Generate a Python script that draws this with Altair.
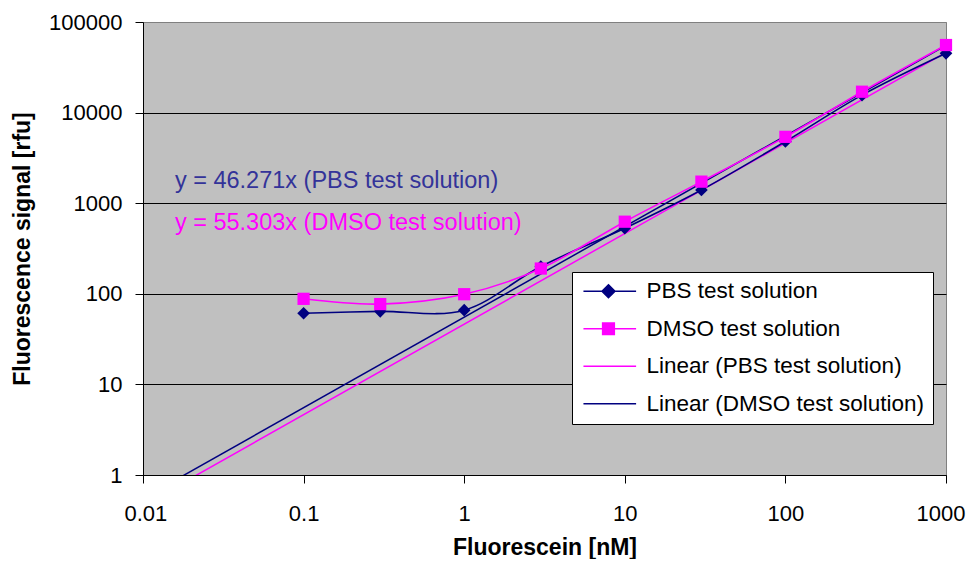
import altair as alt
import pandas as pd

# ---- data ----
X_NM = [0.1, 0.3, 1, 3, 10, 30, 100, 300, 1000]
PBS = [61, 64, 66, 200, 530, 1400, 4800, 15600, 45100]
DMSO = [88, 77, 99, 190, 625, 1730, 5400, 17000, 55700]

FIT_X = [0.01, 1000]
FIT_PBS = [0.46271, 46271]     # y = 46.271x
FIT_DMSO = [0.55303, 55303]    # y = 55.303x

SERIES = ["PBS test solution", "DMSO test solution",
          "Linear (PBS test solution)", "Linear (DMSO test solution)"]
COLORS = ["#000080", "#FF00FF", "#FF00FF", "#000080"]
LEGEND_SHAPES = [
    "M-1.2,0H6.9M2.65,-1L3.65,0L2.65,1L1.65,0Z",
    "M-1.2,0H6.9M1.75,-0.9H3.55V0.9H1.75Z",
    "M-1.2,0H6.9",
    "M-1.2,0H6.9",
]

X_TICKS = [0.01, 0.1, 1, 10, 100, 1000]
Y_TICKS = [1, 10, 100, 1000, 10000, 100000]

ANNOT_TEXT = ["y = 46.271x (PBS test solution)", "y = 55.303x (DMSO test solution)"]
ANNOT_X = [0.0158, 0.0158]
ANNOT_Y = [1470, 506]
ANNOT_COLOR = ["#333399", "#FF00FF"]

FONT = "Liberation Sans"

# ---- tables ----
pts = pd.DataFrame({
    "x": X_NM * 2,
    "y": PBS + DMSO,
    "series": [SERIES[0]] * len(X_NM) + [SERIES[1]] * len(X_NM),
})
fits = pd.DataFrame({
    "x": FIT_X * 2,
    "y": FIT_PBS + FIT_DMSO,
    "series": [SERIES[2]] * 2 + [SERIES[3]] * 2,
})
ann = pd.DataFrame({"x": ANNOT_X, "y": ANNOT_Y, "t": ANNOT_TEXT, "c": ANNOT_COLOR})

x_enc = alt.X("x:Q",
              scale=alt.Scale(type="log", domain=[0.01, 1000], nice=False),
              axis=alt.Axis(values=X_TICKS, format="~g", title="Fluorescein [nM]",
                            grid=False, tickSize=8, labelPadding=20,
                            labelFlush=True, labelFlushOffset=19,
                            titleY=79, titleBaseline="alphabetic"))
y_enc = alt.Y("y:Q",
              scale=alt.Scale(type="log", domain=[1, 100000], nice=False),
              axis=alt.Axis(values=Y_TICKS, format="~g",
                            title="Fluorescence signal [rfu]",
                            grid=True,
                            gridColor={"condition": {"test": "datum.value >= 100000",
                                                     "value": "#808080"},
                                       "value": "black"},
                            tickSize=8, labelPadding=13, labelFlush=False,
                            titleX=-114, titleBaseline="alphabetic"))

color_scale = alt.Scale(domain=SERIES, range=COLORS)


def legend():
    return alt.Legend(
        title=None, orient="none", legendX=429, legendY=250,
        fillColor="white", strokeColor="black", padding=8,
        labelFont=FONT, labelFontSize=22.5, labelColor="black",
        labelOffset=44, labelLimit=500, rowPadding=14.5,
        symbolSize=169, symbolStrokeWidth=1.5, symbolOpacity=1,
    )


# invisible layer that only carries the legend (line + marker symbols); first so it wins merges
legend_layer = alt.Chart(pts).mark_point(filled=True, opacity=0).encode(
    x=x_enc, y=y_enc,
    color=alt.Color("series:N", scale=color_scale, legend=legend()),
    stroke=alt.Stroke("series:N", scale=alt.Scale(domain=SERIES, range=COLORS),
                      legend=legend()),
    shape=alt.Shape("series:N", scale=alt.Scale(domain=SERIES, range=LEGEND_SHAPES),
                    legend=legend()),
)
fit_layer = alt.Chart(fits).mark_line(clip=True, strokeWidth=1.5).encode(
    x=x_enc, y=y_enc,
    color=alt.Color("series:N", scale=color_scale, legend=legend()),
)
data_lines = alt.Chart(pts).mark_line(interpolate="cardinal", strokeWidth=1.6).encode(
    x=x_enc, y=y_enc,
    color=alt.Color("series:N", scale=color_scale, legend=legend()),
)
pbs_pts = alt.Chart(pts).transform_filter(
    alt.datum.series == SERIES[0]
).mark_point(filled=True, shape="diamond", size=160, opacity=1).encode(
    x=x_enc, y=y_enc,
    color=alt.Color("series:N", scale=color_scale, legend=legend()),
)
dmso_pts = alt.Chart(pts).transform_filter(
    alt.datum.series == SERIES[1]
).mark_point(filled=True, shape="square", size=150, opacity=1).encode(
    x=x_enc, y=y_enc,
    color=alt.Color("series:N", scale=color_scale, legend=legend()),
)
texts = alt.Chart(ann).mark_text(align="left", baseline="alphabetic",
                                 font=FONT, fontSize=23.5).encode(
    x=x_enc, y=y_enc, text="t:N",
    color=alt.Color("c:N", scale=None),
)

chart = alt.layer(legend_layer, fit_layer, data_lines, pbs_pts, dmso_pts, texts).properties(
    width=803, height=453,
    padding={"left": 135, "top": 14, "right": 20, "bottom": 84},
    autosize=alt.AutoSizeParams(type="none"),
    background="white",
).configure_view(
    fill="#C0C0C0", stroke="#808080", strokeWidth=1,
).configure_axis(
    domainColor="black", tickColor="black", gridWidth=1,
    labelFont=FONT, labelFontSize=22, labelColor="black",
    titleFont=FONT, titleFontSize=23, titleFontWeight="bold", titleColor="black",
)

chart.save("out.html", embed_options={"renderer": "svg", "actions": False})
